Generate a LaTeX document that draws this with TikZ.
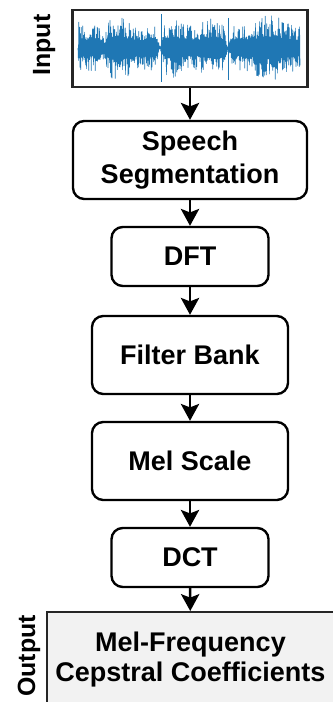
\documentclass[tikz,border=0pt]{standalone}
\usepackage{fontspec}
\setmainfont{Liberation Sans}
\usetikzlibrary{arrows.meta,positioning}
\definecolor{WaveBlue}{RGB}{31,119,180}
\definecolor{OutGray}{RGB}{242,242,242}
\definecolor{EdgeDark}{RGB}{38,38,38}

\begin{document}
\begin{tikzpicture}[x=0.025cm,y=-0.025cm,
    blk/.style={draw=black,line width=1.7pt,rounded corners=8pt,fill=white,
                minimum width=4.9cm,minimum height=1.95cm,
                font=\fontsize{19.2}{23.4}\selectfont\bfseries,align=center},
    sblk/.style={blk,minimum width=3.925cm,minimum height=1.475cm},
    inbox/.style={draw=EdgeDark,line width=1.8pt,fill=white,
                  minimum width=5.875cm,minimum height=1.925cm},
    outbox/.style={draw=EdgeDark,line width=1.4pt,fill=OutGray,
                   minimum width=7.175cm,minimum height=2.375cm,
                   font=\fontsize{19.2}{21}\selectfont\bfseries,align=center},
    lbl/.style={rotate=90,anchor=base,font=\fontsize{17.7}{20}\selectfont\bfseries},
    wave/.style={WaveBlue,line width=0.45pt,line join=round},
    arrow/.style={-{Stealth[length=12pt,width=13pt,inset=2.5pt]},line width=1.8pt,black},
    declare function={dip(\x,\c,\w)=1/(1+((\x-\c)/\w)^2);
                      env(\x)=(1-0.95*dip(\x,160,3))*(1-0.9*dip(\x,228,3))
                              *(1-0.6*dip(\x,104,2.5))*(0.85+0.15*sin(\x*7));}]

    \useasboundingbox (0,0) rectangle (332,702);

    % input signal
    \node[inbox] (in) at (190,48.5) {};
    \pgfmathsetseed{42}
    \draw[wave] (78,48) \foreach \i in {1,...,555}
      { -- ({78+\i*0.4},{48+(2*mod(\i,2)-1)*(11+22*rnd^1.5)*env(78+\i*0.4)}) };
    \draw[wave,line width=0.6pt] (161,14) -- (161,82);
    \draw[wave,line width=0.6pt] (228,18) -- (228,80);
    \node[lbl] (inlbl) at (50,45) {Input};

    % processing stages
    \node[blk,minimum width=5.85cm] (seg) at (190,160) {Speech\\Segmentation};
    \node[sblk] (dft) at (190,256.5) {DFT};
    \node[blk] (fb)  at (190,355) {Filter Bank};
    \node[blk] (mel) at (190,461) {Mel Scale};
    \node[sblk] (dct) at (190,557.5) {DCT};

    % output features
    \node[outbox] (out) at (190.5,659.5) {Mel-Frequency\\Cepstral Coefficients};
    \node[lbl] (outlbl) at (35,656) {Output};

    \foreach \a/\b in {in/seg,seg/dft,dft/fb,fb/mel,mel/dct,dct/out}
      { \draw[arrow] (\a)--(\b); }
\end{tikzpicture}
\end{document}
